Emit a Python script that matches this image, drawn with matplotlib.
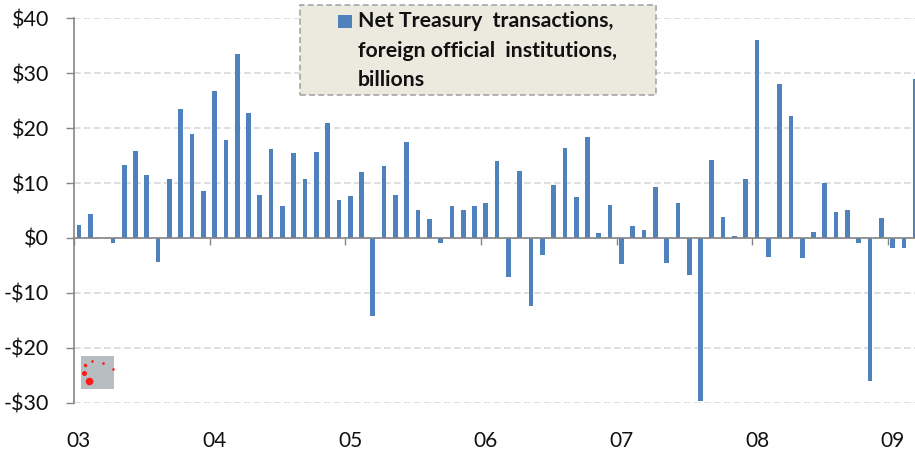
import numpy as np
import matplotlib.pyplot as plt
from matplotlib.patches import Rectangle

# Net Treasury transactions per month, Jan 2003 - Mar 2009
net_2003 = [2.3, 4.3, 0, -1.0, 13.3, 15.9, 11.5, -4.4, 10.7, 23.5, 18.9, 8.5]
net_2004 = [26.8, 17.8, 33.5, 22.7, 7.9, 16.2, 5.9, 15.5, 10.8, 15.6, 21.0, 7.0]
net_2005 = [7.6, 12.1, -14.2, 13.2, 7.9, 17.4, 5.0, 3.5, -1.0, 5.9, 5.0, 5.8]
net_2006 = [6.4, 14.0, -7.1, 12.2, -12.4, -3.1, 9.6, 16.4, 7.5, 18.4, 0.9, 6.0]
net_2007 = [-4.7, 2.1, 1.4, 9.2, -4.5, 6.4, -6.8, -29.7, 14.2, 3.9, 0.3, 10.8]
net_2008 = [36.0, -3.5, 28.0, 22.3, -3.7, 1.0, 10.0, 4.8, 5.0, -1.0, -26.1, 3.7]
net_2009 = [-1.8, -1.8, 29.0]

year_labels = ["03", "04", "05", "06", "07", "08", "09"]
y_values = [40, 30, 20, 10, 0, -10, -20, -30]
y_labels = ["$40", "$30", "$20", "$10", "$0", "-$10", "-$20", "-$30"]
legend_lines = ["Net Treasury  transactions,", "foreign official  institutions,", "billions"]

W, H = 915, 454
plt.rcParams['font.family'] = ['Lato', 'DejaVu Sans']

net = net_2003 + net_2004 + net_2005 + net_2006 + net_2007 + net_2008 + net_2009
months = np.arange(len(net))
jan = months[::12]

fig = plt.figure(figsize=(W / 100, H / 100), dpi=100)
ax = fig.add_axes([74 / W, 1 - 402.5 / H, (W - 74) / W, 384 / H])

ax.bar(months, net, width=0.42, color="#4F81BD", zorder=3)

ax.set_xlim(-0.44, 73.98)
ax.set_ylim(-30, 40)

for s in ["top", "right"]:
    ax.spines[s].set_visible(False)
ax.spines["left"].set_color("#868686")
ax.spines["left"].set_linewidth(1.2)
ax.spines["bottom"].set_position(("data", 0))
ax.spines["bottom"].set_color("#868686")
ax.spines["bottom"].set_linewidth(1.2)
ax.spines["bottom"].set_zorder(4)

ax.set_yticks(y_values)
ax.set_yticklabels(y_labels, fontsize=15.5, color="#111111")
ax.tick_params(axis="y", length=5.8, width=1.0, color="#868686", pad=12)
ax.grid(axis="y", color="#D9D9D9", lw=1.2, ls=(0, (4, 2)), zorder=0)
ax.set_axisbelow(True)

# year labels sit under the January bars, tick marks on the year boundaries
ax.set_xticks(jan)
ax.set_xticklabels(year_labels, fontsize=15, color="#111111")
ax.tick_params(axis="x", which="major", length=0, pad=139)
ax.set_xticks(jan - 0.42, minor=True)
ax.tick_params(axis="x", which="minor", length=5, width=1.0, color="#868686")


def fx(x):
    return x / W


def fy(y):
    return 1 - y / H


# legend box
fig.add_artist(Rectangle((fx(299.5), fy(95)), 356.5 / W, 90.5 / H, transform=fig.transFigure,
                         facecolor="#ECEADF", edgecolor="#A6A6A6", lw=1.2,
                         ls=(0, (3.5, 2)), zorder=5))
fig.add_artist(Rectangle((fx(338), fy(28)), 14 / W, 13 / H, transform=fig.transFigure,
                         facecolor="#4F81BD", edgecolor="none", zorder=6))
for line, base in zip(legend_lines, [27, 57, 86]):
    fig.text(fx(358), fy(base), line, fontsize=15.3, fontweight="bold", color="#111111",
             va="baseline", ha="left", zorder=6)

# small grey stamp with red specks in the lower left
fig.add_artist(Rectangle((fx(81), fy(388.5)), 33 / W, 32.5 / H, transform=fig.transFigure,
                         facecolor="#B8BDC2", edgecolor="none", zorder=6))
speck_x = [84, 89, 85, 92.3, 102.7, 112.7]
speck_y = [373, 380.7, 365, 361, 363, 369.3]
speck_s = [13, 30, 6, 3.5, 3.5, 3.5]
for x, y, s in zip(speck_x, speck_y, speck_s):
    fig.add_artist(plt.Line2D([fx(x)], [fy(y)], marker="o", ms=s ** 0.5, mfc="#FF1A1A", mec="none",
                              transform=fig.transFigure, zorder=7))

plt.savefig("out.png", dpi=100)
